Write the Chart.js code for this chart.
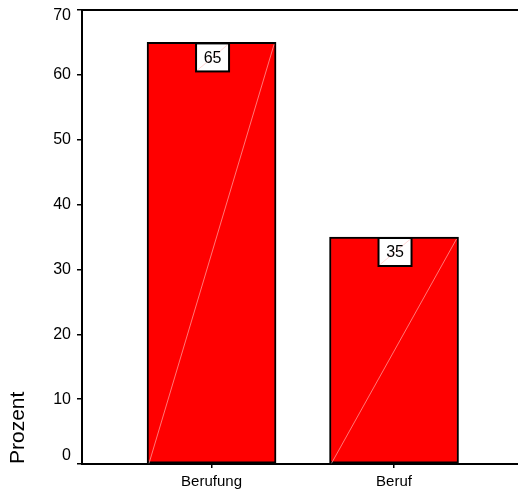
<!DOCTYPE html>
<html>
<head>
<meta charset="utf-8">
<script src="https://cdn.jsdelivr.net/npm/chart.js@4/dist/chart.umd.min.js"></script>
<style>
  html, body { margin: 0; padding: 0; background: #fff; overflow: hidden; }
  #wrap { width: 518px; height: 492px; overflow: hidden; }
</style>
</head>
<body>
<div id="wrap"><canvas id="chart" width="540" height="492"></canvas></div>
<script>
const categories = ['Berufung', 'Beruf'];
const percentValues = [65, 35];
const yTicks = [0, 10, 20, 30, 40, 50, 60, 70];
const yTitle = 'Prozent';

const fontFamily = '"Liberation Sans", Arial, sans-serif';

// diagonal hairline through each bar + boxed value label
const barDecor = {
    id: 'barDecor',
    beforeDraw(chart) {
        // SPSS keeps the end labels inside the axis range
        const items = chart.scales.y.getLabelItems();
        if (items.length) {
            items[0].options.translation[1] -= 8;
            items[items.length - 1].options.translation[1] += 6;
        }
    },
    afterDatasetsDraw(chart) {
        const ctx = chart.ctx;
        const meta = chart.getDatasetMeta(0);
        meta.data.forEach((bar, i) => {
            const p = bar.getProps(['x', 'y', 'base', 'width'], true);
            const left = p.x - p.width / 2;
            const right = p.x + p.width / 2;
            ctx.save();
            ctx.strokeStyle = 'rgba(255,190,190,0.9)';
            ctx.lineWidth = 0.7;
            ctx.beginPath();
            ctx.moveTo(left + 2, p.base);
            ctx.lineTo(right - 2, p.y + 2);
            ctx.stroke();

            // value box
            const bw = 33, bh = 28;
            const bx = p.x + 1 - bw / 2;
            const by = p.y + 1;
            ctx.fillStyle = '#ffffff';
            ctx.fillRect(bx, by, bw, bh);
            ctx.strokeStyle = 'rgba(255,170,170,0.8)';
            ctx.lineWidth = 0.6;
            ctx.beginPath();
            ctx.moveTo(bx + 1, by + bh - 1);
            ctx.lineTo(bx + bw - 1, by + 1);
            ctx.stroke();
            ctx.strokeStyle = '#000';
            ctx.lineWidth = 2;
            ctx.strokeRect(bx, by, bw, bh);
            ctx.fillStyle = '#000';
            ctx.font = '16px ' + fontFamily;
            ctx.textAlign = 'center';
            ctx.textBaseline = 'middle';
            ctx.fillText(String(percentValues[i]), bx + bw / 2, by + bh / 2 + 1);
            ctx.restore();
        });
    }
};

let chart = new Chart(document.getElementById('chart'), {
    type: 'bar',
    data: {
        datasets: [{
            data: categories.map((c, i) => ({ x: i, y: percentValues[i] })),
            backgroundColor: '#ff0000',
            borderColor: '#000000',
            borderWidth: 2,
            borderSkipped: false,
            barThickness: 129,
            xAxisID: 'x',
            yAxisID: 'y'
        }]
    },
    options: {
        responsive: false,
        animation: false,
        events: [],
        layout: { padding: 0 },
        plugins: {
            legend: { display: false },
            tooltip: { enabled: false }
        },
        scales: {
            x: {
                type: 'linear',
                position: 'bottom',
                offset: false,
                min: -0.71,
                max: 1.8,
                afterBuildTicks: (scale) => {
                    scale.ticks = categories.map((c, i) => ({ value: i }));
                },
                afterFit: (scale) => {
                    scale.height = 28;
                    scale.paddingLeft = 0;
                    scale.paddingRight = 0;
                },
                ticks: {
                    color: '#000',
                    padding: 5,
                    maxRotation: 0,
                    font: { family: fontFamily, size: 15 },
                    callback: function (value) {
                        return categories[value];
                    }
                },
                grid: {
                    offset: false,
                    drawOnChartArea: false,
                    tickLength: 4,
                    color: '#000',
                    lineWidth: 1.5
                },
                border: { color: '#000', width: 2 }
            },
            xTop: {
                type: 'linear',
                position: 'top',
                afterFit: (scale) => {
                    scale.height = 10;
                    scale.paddingLeft = 0;
                    scale.paddingRight = 0;
                },
                ticks: { display: false },
                grid: { display: false },
                border: { color: '#000', width: 2 }
            },
            y: {
                min: 0,
                max: 70,
                afterBuildTicks: (scale) => {
                    scale.ticks = yTicks.map(v => ({ value: v }));
                },
                afterFit: (scale) => {
                    scale.width = 82;
                    scale.paddingTop = 0;
                    scale.paddingBottom = 0;
                },
                ticks: {
                    color: '#000',
                    padding: 6,
                    font: { family: fontFamily, size: 16 }
                },
                grid: {
                    drawOnChartArea: false,
                    tickLength: 5,
                    color: '#000',
                    lineWidth: 1.5
                },
                border: { color: '#000', width: 2 },
                title: {
                    display: true,
                    text: yTitle,
                    align: 'start',
                    color: '#000',
                    padding: { top: 6, bottom: 0 },
                    font: { family: fontFamily, size: 21 }
                }
            }
        }
    },
    plugins: [barDecor]
});
</script>
</body>
</html>
